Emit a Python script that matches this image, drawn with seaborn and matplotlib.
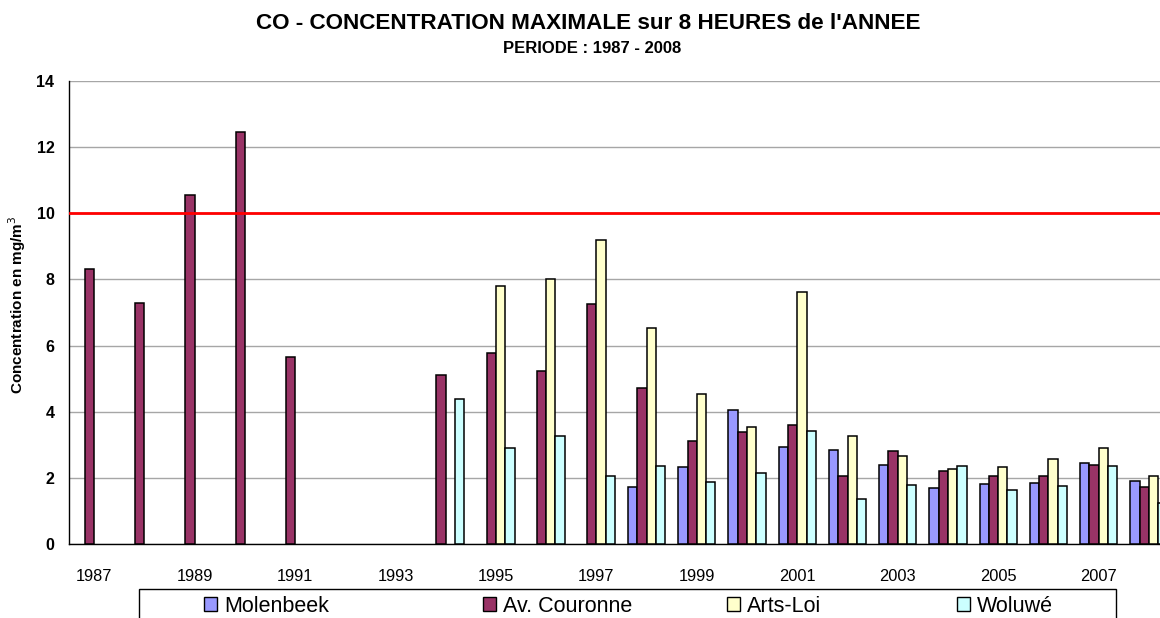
import numpy as np
import pandas as pd
import matplotlib
matplotlib.use("Agg")
import matplotlib.pyplot as plt
from matplotlib.patches import Patch, Rectangle
import seaborn as sns

# ---- data ----
years = list(range(1987, 2009))
nan = np.nan
molenbeek = [nan, nan, nan, nan, nan, nan, nan, nan, nan, nan, nan,
             1.73, 2.34, 4.07, 2.95, 2.85, 2.40, 1.70, 1.83, 1.86, 2.47, 1.92]
av_couronne = [8.30, 7.28, 10.54, 12.44, 5.66, nan, nan, 5.11, 5.77, 5.23, 7.27,
               4.72, 3.11, 3.40, 3.61, 2.05, 2.83, 2.22, 2.05, 2.07, 2.38, 1.72]
arts_loi = [nan, nan, nan, nan, nan, nan, nan, nan, 7.79, 8.02, 9.20,
            6.53, 4.54, 3.54, 7.62, 3.26, 2.67, 2.27, 2.34, 2.59, 2.92, 2.07]
woluwe = [nan, nan, nan, nan, nan, nan, nan, 4.40, 2.91, 3.27, 2.06,
          2.37, 1.89, 2.15, 3.42, 1.38, 1.78, 2.37, 1.64, 1.76, 2.37, 1.24]
stations = ["Molenbeek", "Av. Couronne", "Arts-Loi", "Woluwé"]
colors = ["#9999FF", "#993366", "#FFFFCC", "#CCFFFF"]
limit_value = 10
ytick_values = [0, 2, 4, 6, 8, 10, 12, 14]
xtick_labels = [str(y) for y in years[::2]]

series = dict(zip(stations, [molenbeek, av_couronne, arts_loi, woluwe]))
rows = []
for st in stations:
    for yr, v in zip(years, series[st]):
        if not np.isnan(v):
            rows.append({"year": str(yr), "station": st, "value": v})
df = pd.DataFrame(rows)

sns.set_style("white")
plt.rcParams["font.family"] = ["Liberation Sans", "DejaVu Sans"]
plt.rcParams["text.color"] = "black"
plt.rcParams["axes.labelcolor"] = "black"
plt.rcParams["xtick.color"] = "black"
plt.rcParams["ytick.color"] = "black"

W, H = 1160, 618
fig = plt.figure(figsize=(W / 100, H / 100), dpi=100)
ax = fig.add_axes([69 / W, (H - 544.3) / H, 1105 / W, 463.6 / H])

sns.barplot(data=df, x="year", y="value", hue="station",
            order=[str(y) for y in years], hue_order=stations,
            palette=colors, saturation=1, width=0.74, errorbar=None,
            edgecolor="black", linewidth=1.1, legend=False, ax=ax, zorder=3)

ax.axhline(limit_value, color="#FF0000", lw=2.0, zorder=4)

ax.set_xlim(-0.5, len(years) - 0.5)
ax.set_ylim(0, 14)
ax.set_yticks(ytick_values)
ax.set_yticklabels([str(v) for v in ytick_values], fontweight="bold", fontsize=11.5)
ax.yaxis.grid(True, color="#A6A6A6", lw=1.0)
ax.set_axisbelow(True)

ax.set_xticks(np.arange(-0.5, len(years), 1.0))
ax.set_xticklabels([])
ax.set_xticks(np.arange(0, len(years), 2), minor=True)
ax.set_xticklabels(xtick_labels, minor=True, fontsize=11.8)
ax.tick_params(axis="x", which="major", direction="out", length=4.5, width=0.8, color="black")
ax.tick_params(axis="x", which="minor", length=0, pad=18)
ax.tick_params(axis="y", direction="out", length=4.5, width=0.8, color="black", pad=6)

for s in ["top", "right"]:
    ax.spines[s].set_visible(False)
for s in ["left", "bottom"]:
    ax.spines[s].set_color("black")
    ax.spines[s].set_linewidth(1.0)

ax.set_xlabel("")
ax.set_ylabel("Concentration en mg/m$^3$", fontweight="bold", fontsize=11)
ax.yaxis.set_label_coords((28 - 69) / 1105, 0.516)

fig.text(588 / W, 1 - 23.5 / H, "CO - CONCENTRATION MAXIMALE sur 8 HEURES de l'ANNEE",
         ha="center", va="center", fontsize=16.2, fontweight="bold")
fig.text(592 / W, 1 - 48.5 / H, "PERIODE : 1987 - 2008",
         ha="center", va="center", fontsize=12, fontweight="bold")

# legend box
fig.patches.append(Rectangle((139 / W, -0.05), (1116 - 139) / W, (H - 589) / H + 0.05,
                             transform=fig.transFigure, fill=False,
                             edgecolor="black", lw=1.0))
starts = [204, 483, 727, 957]
for st, c, xs in zip(stations, colors, starts):
    fig.legend(handles=[Patch(facecolor=c, edgecolor="black", lw=1.0)], labels=[st],
               loc="center left", bbox_to_anchor=(xs / W, 1 - 606.5 / H),
               frameon=False, borderpad=0, borderaxespad=0,
               handlelength=0.62, handleheight=0.62, handletextpad=0.3,
               fontsize=15.5)

fig.savefig("out.png", dpi=100)
